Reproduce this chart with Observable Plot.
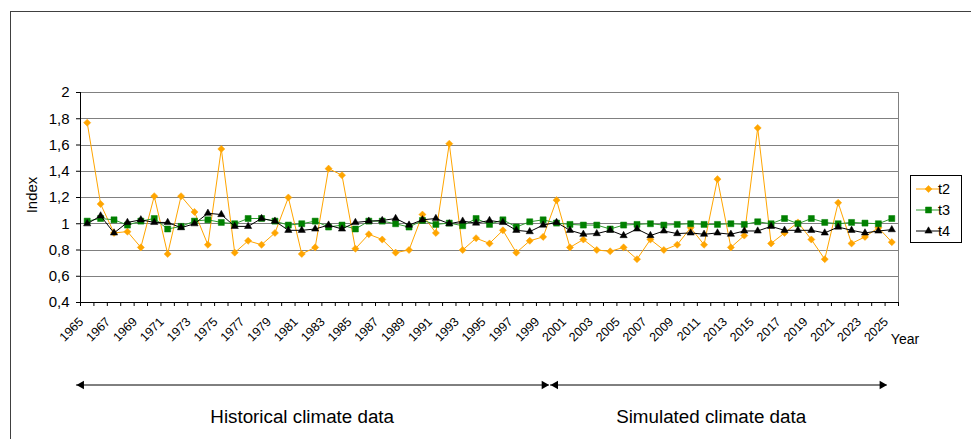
<!DOCTYPE html>
<html>
<head>
<meta charset="utf-8">
<script src="https://cdn.jsdelivr.net/npm/d3@7"></script>
<script src="https://cdn.jsdelivr.net/npm/@observablehq/plot@0.6"></script>
<style>
html, body { margin: 0; padding: 0; background: #fff; overflow: hidden; }
#chart { position: relative; width: 971px; height: 439px; }
</style>
</head>
<body>
<div id="chart"></div>
<script>
// ---------- data ----------
const years = [1965,1966,1967,1968,1969,1970,1971,1972,1973,1974,1975,1976,1977,1978,1979,1980,
  1981,1982,1983,1984,1985,1986,1987,1988,1989,1990,1991,1992,1993,1994,1995,1996,1997,1998,1999,
  2000,2001,2002,2003,2004,2005,2006,2007,2008,2009,2010,2011,2012,2013,2014,2015,2016,2017,2018,
  2019,2020,2021,2022,2023,2024,2025];

const t2 = [1.77,1.15,0.93,0.94,0.82,1.21,0.77,1.21,1.09,0.84,1.57,0.78,0.87,0.84,0.93,1.20,
  0.77,0.82,1.42,1.37,0.81,0.92,0.88,0.78,0.80,1.07,0.93,1.61,0.80,0.89,0.85,0.95,0.78,0.87,0.90,
  1.18,0.82,0.88,0.80,0.79,0.82,0.73,0.88,0.80,0.84,0.97,0.84,1.34,0.82,0.91,1.73,0.85,0.93,1.01,
  0.88,0.73,1.16,0.85,0.90,0.97,0.86];

const t3 = [1.02,1.04,1.03,0.99,1.02,1.04,0.96,0.98,1.02,1.03,1.01,1.00,1.04,1.04,1.02,0.99,
  1.00,1.02,0.975,0.99,0.96,1.02,1.02,1.00,0.975,1.025,0.995,1.005,0.985,1.04,0.995,1.03,0.975,1.015,1.03,
  1.005,0.995,0.99,0.99,0.96,0.99,0.995,1.00,0.99,0.995,1.00,0.995,0.995,1.00,0.995,1.015,1.00,1.04,1.00,
  1.04,1.01,1.00,1.01,1.005,1.00,1.04];

const t4 = [1.00,1.06,0.93,1.01,1.03,1.01,1.01,0.97,1.00,1.08,1.07,0.98,0.98,1.04,1.02,0.95,
  0.95,0.96,0.99,0.96,1.01,1.02,1.025,1.04,0.99,1.03,1.04,1.00,1.02,1.005,1.025,1.01,0.95,0.94,0.99,
  1.01,0.95,0.92,0.925,0.95,0.91,0.96,0.91,0.945,0.925,0.93,0.92,0.93,0.92,0.945,0.945,0.98,0.95,0.95,
  0.95,0.93,0.975,0.95,0.93,0.945,0.955];

const seriesNames = ["t2", "t3", "t4"];
const yTicks = [0.4, 0.6, 0.8, 1, 1.2, 1.4, 1.6, 1.8, 2];
const xTickLabels = [1965,1967,1969,1971,1973,1975,1977,1979,1981,1983,1985,1987,1989,1991,1993,
  1995,1997,1999,2001,2003,2005,2007,2009,2011,2013,2015,2017,2019,2021,2023,2025];
const periods = [
  { label: "Historical climate data", start: 1965, end: 1999 },
  { label: "Simulated climate data", start: 2000, end: 2025 }
];

// ---------- styles ----------
const markerColor = { t2: "#ffa500", t3: "#008000", t4: "#000000" };
const lineColor   = { t2: "#ffa500", t3: "#2e9a2e", t4: "#000000" };
const symbols     = { t2: "diamond2", t3: "square", t4: "triangle" };
const radii       = { t2: 3.2, t3: 3.4, t4: 2.7 };
const FONT = "'Liberation Sans', Arial, sans-serif";

const seriesData = { t2, t3, t4 };
const rows = seriesNames.map(s => years.map((yr, i) => ({ year: yr, series: s, value: seriesData[s][i] })));

const bounds = years.map(y => y - 0.5).concat([years[years.length - 1] + 0.5]);
const xMin = bounds[0], xMax = bounds[bounds.length - 1];
const fmt = d => String(d).replace(".", ",");
const yBase = yTicks[0];

// arrow tip pads (relative to period start/end, in years)
const arrowPads = [[-0.8, 0.45], [-0.45, -0.35]];
const arrows = periods.map((p, i) => ({ ...p, x1: p.start + arrowPads[i][0], x2: p.end + arrowPads[i][1] }));

const marks = [
  Plot.ruleY(yTicks, { stroke: "#808080", strokeWidth: 1, shapeRendering: "crispEdges" }),
  Plot.ruleX([xMax], { stroke: "#808080", strokeWidth: 1, shapeRendering: "crispEdges" }),
  Plot.ruleX([xMin], { stroke: "#000", shapeRendering: "crispEdges" }),
  Plot.ruleY([yBase], { stroke: "#000", shapeRendering: "crispEdges" }),
  Plot.axisX({ ticks: bounds, tickSize: 4, tickFormat: () => "", label: null }),
  Plot.axisY({ ticks: yTicks, tickSize: 4, tickPadding: 7, tickFormat: fmt, fontSize: 15, label: null }),
  Plot.text(xTickLabels, { x: d => d, frameAnchor: "bottom", text: d => String(d), rotate: -45,
    textAnchor: "end", dx: -3, dy: 20, fontSize: 12.5, fill: "#000" })
];

seriesNames.forEach((s, k) => {
  marks.push(Plot.line(rows[k], { x: "year", y: "value", stroke: lineColor[s], strokeWidth: 1 }));
  marks.push(Plot.dot(rows[k], { x: "year", y: "value", symbol: symbols[s], r: radii[s],
    fill: markerColor[s], stroke: markerColor[s], strokeWidth: 0.5 }));
});

// period arrows and labels
marks.push(Plot.ruleY(arrows, { y: yBase, x1: "x1", x2: "x2", dy: 82.5, stroke: "#000", strokeWidth: 1 }));
marks.push(Plot.dot(arrows, { x: "x1", y: yBase, dy: 82.5, dx: 5, symbol: "triangle", rotate: -90, r: 3.2, fill: "#000", stroke: "none" }));
marks.push(Plot.dot(arrows, { x: "x2", y: yBase, dy: 82.5, dx: -5, symbol: "triangle", rotate: 90, r: 3.2, fill: "#000", stroke: "none" }));
marks.push(Plot.text(arrows, { x: d => (d.start + d.end) / 2, y: yBase, dy: 114, dx: -13, text: "label", fontSize: 18.8, fill: "#000" }));

const svg = Plot.plot({
  width: 971,
  height: 439,
  marginLeft: 80,
  marginRight: 73,
  marginTop: 92,
  marginBottom: 137,
  style: { fontFamily: FONT, background: "transparent", overflow: "visible", color: "#000" },
  x: { domain: [xMin, xMax], axis: null },
  y: { domain: [yTicks[0], yTicks[yTicks.length - 1]], axis: null },
  marks
});

const root = d3.select(svg);
// outer chart frame
root.insert("rect", ":first-child")
  .attr("x", 10.5).attr("y", 11.5).attr("width", 1000).attr("height", 500)
  .attr("fill", "#fff").attr("stroke", "#404040").attr("stroke-width", 1);

// axis titles
root.append("text").attr("x", 905).attr("y", 344).attr("font-family", FONT).attr("font-size", 14)
  .attr("fill", "#000").text("Year");
root.append("text").attr("transform", "translate(37,195) rotate(-90)").attr("text-anchor", "middle")
  .attr("font-family", FONT).attr("font-size", 15).attr("fill", "#000").text("Index");

// legend
const lg = root.append("g");
lg.append("rect").attr("x", 910.5).attr("y", 175.5).attr("width", 51).attr("height", 67)
  .attr("fill", "#fff").attr("stroke", "#000").attr("stroke-width", 1);
const legendY = [189, 210, 231];
seriesNames.forEach((s, k) => {
  const y = legendY[k];
  lg.append("line").attr("x1", 916).attr("x2", 941).attr("y1", y).attr("y2", y)
    .attr("stroke", lineColor[s]).attr("stroke-width", 1);
  const sym = { diamond2: d3.symbolDiamond2, square: d3.symbolSquare, triangle: d3.symbolTriangle }[symbols[s]];
  lg.append("path").attr("d", d3.symbol(sym, Math.PI * radii[s] * radii[s])())
    .attr("transform", `translate(928.5,${y})`).attr("fill", markerColor[s]).attr("stroke", markerColor[s]).attr("stroke-width", 0.5);
  lg.append("text").attr("x", 944).attr("y", y + 5).attr("font-family", FONT).attr("font-size", 14.5)
    .attr("fill", "#000").text(s);
});

document.getElementById("chart").appendChild(svg);
</script>
</body>
</html>
